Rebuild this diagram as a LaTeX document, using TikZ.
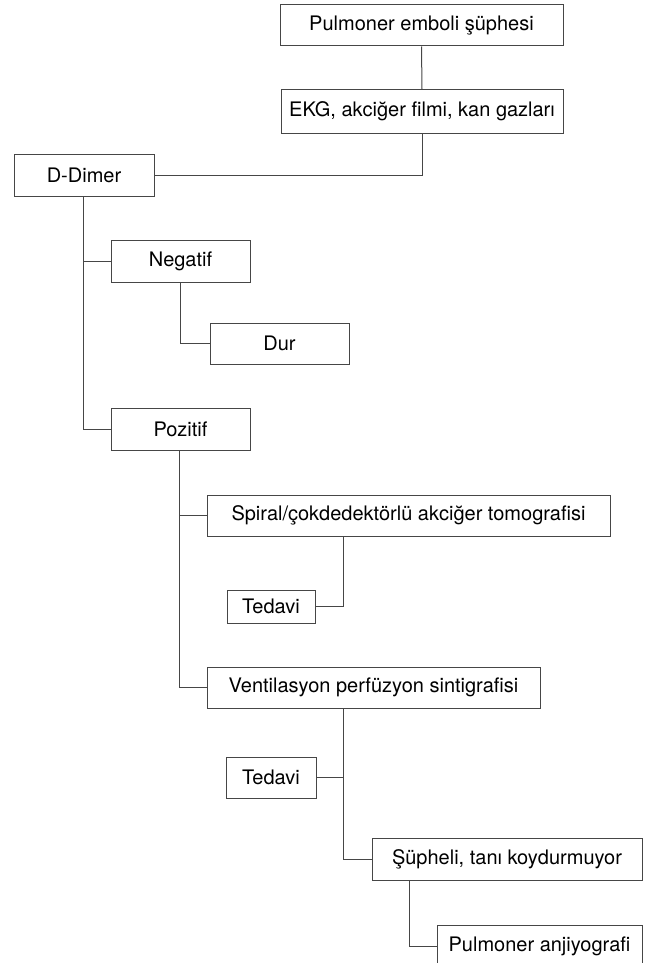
\documentclass[tikz,border=0pt]{standalone}
\usepackage{fontspec}
\setmainfont{TeX Gyre Heros}
\definecolor{boxline}{RGB}{70,70,70}
\definecolor{conline}{RGB}{70,70,70}
\begin{document}
\begin{tikzpicture}[x=1pt,y=-1pt,
  box/.style={draw=boxline,line width=1pt,fill=white,inner sep=0pt,font=\fontsize{20}{24}\selectfont,text=black},
  con/.style={draw=conline,line width=1pt}]
\useasboundingbox (0,0) rectangle (652,963);
\clip (0,0) rectangle (652,963);
\node[box,minimum width=283,minimum height=41] (pe) at (421.5,25.5) {Pulmoner emboli şüphesi};
\node[box,minimum width=282,minimum height=43] (ekg) at (422,111.5) {EKG, akciğer filmi, kan gazları};
\node[box,minimum width=140,minimum height=42] (dd) at (84,175) {D-Dimer};
\node[box,minimum width=139,minimum height=42] (neg) at (180.5,261) {Negatif};
\node[box,minimum width=139,minimum height=41] (dur) at (279.5,343.5) {Dur};
\node[box,minimum width=139,minimum height=42] (poz) at (180.5,429) {Pozitif};
\node[box,minimum width=403,minimum height=41] (spi) at (408.5,515.5) {Spiral/çokdedektörlü akciğer tomografisi};
\node[box,minimum width=88,minimum height=33] (ted1) at (271,606.5) {Tedavi};
\node[box,minimum width=333,minimum height=41] (ven) at (373.5,687.5) {Ventilasyon perfüzyon sintigrafisi};
\node[box,minimum width=90,minimum height=41] (ted2) at (271,777.5) {Tedavi};
\node[box,minimum width=270,minimum height=42] (sup) at (507,859) {Şüpheli, tanı koydurmuyor};
\node[box,minimum width=205,minimum height=42] (anj) at (539.5,946) {Pulmoner anjiyografi};
\coordinate (spib) at (343.5,536);
\coordinate (venb) at (343.5,708);
\coordinate (supb) at (409.5,880);
\draw[con] (pe.south) -- (ekg.north);
\draw[con] (ekg.south) |- (dd.east);
\draw[con] (dd.south -| 83.5,0) |- (neg.west);
\draw[con] (dd.south -| 83.5,0) |- (poz.west);
\draw[con] (neg.south) |- (dur.west);
\draw[con] (poz.south -| 179.5,0) |- (spi.west);
\draw[con] (poz.south -| 179.5,0) |- (ven.west);
\draw[con] (spib) |- (ted1.east);
\draw[con] (venb) |- (ted2.east);
\draw[con] (venb) |- (sup.west);
\draw[con] (supb) |- (anj.west);
\end{tikzpicture}
\end{document}
